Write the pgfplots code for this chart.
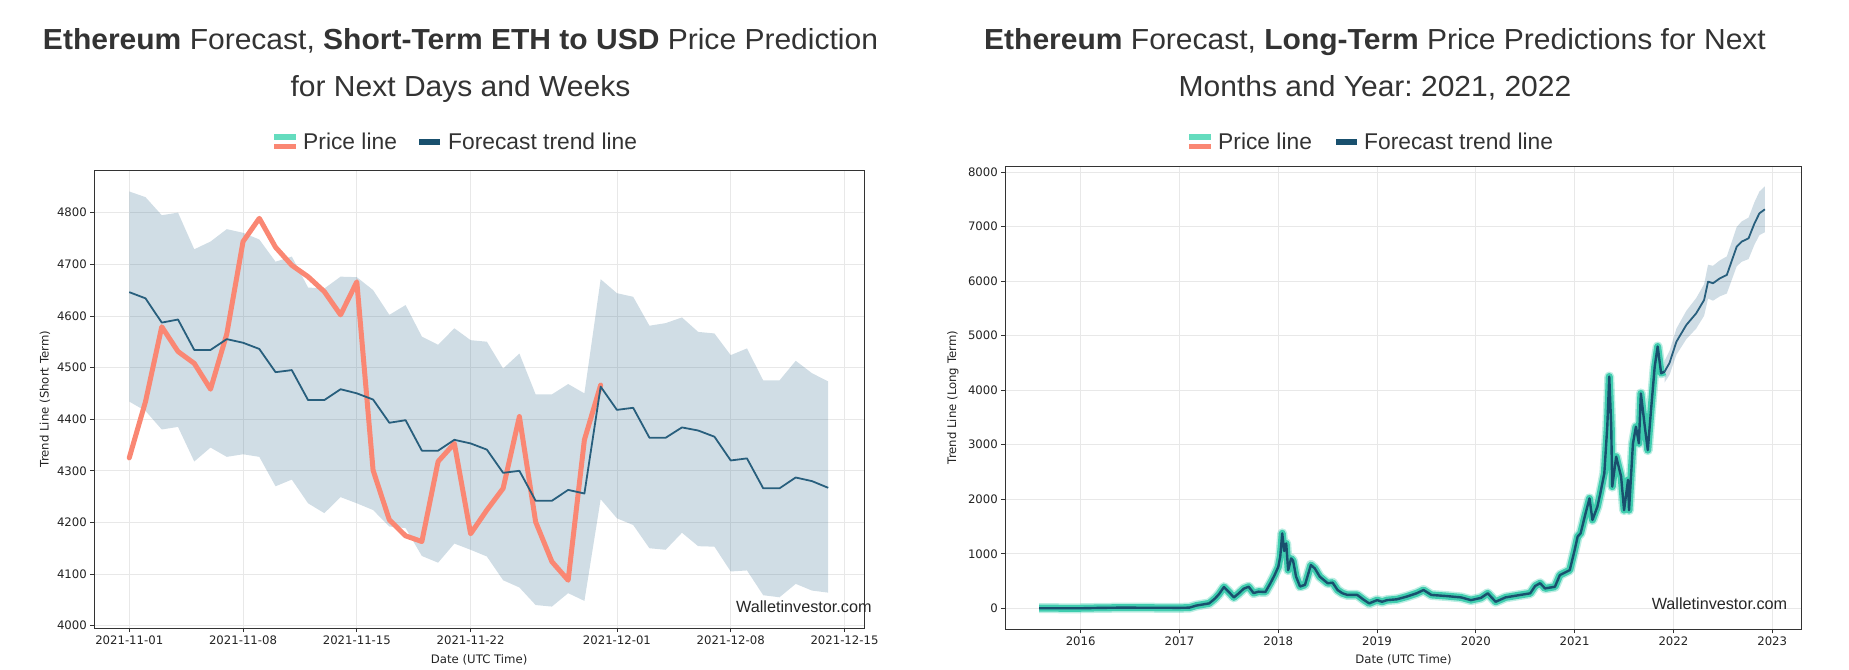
\documentclass[border=0pt]{standalone}
\usepackage{pgfplots}
\pgfplotsset{compat=1.18}
\usepackage{pgfplotstable}
\usepgfplotslibrary{fillbetween}
\usepackage{fontspec}
\setmainfont{Liberation Sans}
\newfontfamily\titlefont[FakeStretch=1.035]{Liberation Sans}
\newfontfamily\dejavu{DejaVu Sans}
\definecolor{titlecol}{RGB}{51,51,51}
\definecolor{bandcol}{RGB}{67,119,151}
\definecolor{trendcol}{RGB}{40,95,125}
\definecolor{salmon}{RGB}{250,135,115}
\definecolor{tealglow}{RGB}{64,205,175}
\definecolor{legteal}{RGB}{100,220,190}
\definecolor{darkline}{RGB}{25,80,110}
\definecolor{gridcol}{RGB}{232,232,232}
\definecolor{tickcol}{RGB}{34,34,34}

\pgfplotstableread{
d t lo hi
0 4646 4434 4841
1 4634 4416 4830
2 4587 4380 4795
3 4593 4385 4800
4 4534 4318 4729
5 4534 4345 4744
6 4555 4327 4768
7 4548 4332 4761
8 4536 4327 4748
9 4491 4270 4705
10 4495 4283 4715
11 4437 4237 4655
12 4437 4218 4653
13 4458 4249 4676
14 4450 4237 4675
15 4438 4224 4650
16 4393 4192 4602
17 4398 4189 4621
18 4339 4135 4560
19 4339 4122 4544
20 4360 4159 4576
21 4353 4147 4553
22 4341 4134 4550
23 4296 4088 4498
24 4300 4074 4527
25 4242 4040 4448
26 4242 4037 4448
27 4263 4063 4468
28 4256 4048 4450
29 4463 4245 4671
30 4418 4208 4644
31 4422 4195 4637
32 4364 4150 4581
33 4364 4147 4586
34 4384 4180 4597
35 4378 4154 4569
36 4366 4153 4566
37 4320 4105 4524
38 4324 4107 4537
39 4266 4059 4475
40 4266 4055 4475
41 4287 4081 4513
42 4280 4068 4489
43 4267 4064 4473
}\sdata

\pgfplotstableread{
d p
0 4325
1 4434
2 4579
3 4531
4 4508
5 4458
6 4565
7 4744
8 4789
9 4733
10 4698
11 4676
12 4647
13 4602
14 4666
15 4301
16 4205
17 4174
18 4163
19 4318
20 4353
21 4178
22 4224
23 4266
24 4405
25 4201
26 4124
27 4088
28 4360
29 4466
}\sprice

\pgfplotstableread{
x y
2015.58 2
2015.80 1
2016.00 1
2016.20 8
2016.40 12
2016.60 11
2016.80 10
2017.00 9
2017.10 12
2017.17 50
2017.25 75
2017.30 90
2017.36 180
2017.40 260
2017.45 390
2017.50 300
2017.55 200
2017.60 275
2017.65 360
2017.70 395
2017.75 280
2017.80 305
2017.87 300
2017.92 460
2017.96 600
2018.00 760
2018.02 950
2018.04 1375
2018.06 1050
2018.08 1190
2018.10 700
2018.13 915
2018.15 870
2018.18 580
2018.22 400
2018.27 430
2018.33 795
2018.37 730
2018.42 580
2018.50 460
2018.55 470
2018.60 335
2018.65 275
2018.70 245
2018.80 245
2018.87 150
2018.92 90
2019.00 150
2019.05 120
2019.10 150
2019.20 165
2019.30 215
2019.40 275
2019.47 335
2019.55 245
2019.70 225
2019.85 200
2019.95 150
2020.05 190
2020.12 275
2020.20 120
2020.30 200
2020.45 245
2020.55 275
2020.60 410
2020.65 460
2020.70 365
2020.80 395
2020.85 610
2020.95 700
2021.00 1070
2021.03 1315
2021.06 1375
2021.11 1740
2021.15 2015
2021.18 1620
2021.23 1865
2021.26 2110
2021.30 2475
2021.33 3330
2021.35 4250
2021.37 3330
2021.38 2230
2021.42 2780
2021.47 2415
2021.50 1800
2021.54 2355
2021.55 1800
2021.59 3025
2021.62 3330
2021.65 3025
2021.67 3940
2021.71 3330
2021.74 2900
2021.77 3575
2021.81 4430
2021.84 4800
2021.875 4310
2021.91 4340
}\lprice

\pgfplotstableread{
x y lo hi
2021.91 4340 4140 4540
2021.96 4500 4280 4720
2022.03 4890 4650 5130
2022.13 5195 4935 5455
2022.23 5409 5129 5689
2022.31 5653 5363 5943
2022.35 5990 5680 6300
2022.40 5960 5640 6280
2022.47 6051 5721 6381
2022.54 6112 5772 6452
2022.64 6631 6271 6991
2022.69 6723 6353 7093
2022.76 6784 6404 7164
2022.82 7059 6669 7449
2022.87 7242 6842 7642
2022.925 7316 6896 7736
}\lfc

\pgfplotsset{mystyle/.style={
  scale only axis,
  axis line style={draw=black!80, line width=0.9bp},
  grid=major,
  major grid style={gridcol, line width=0.8bp},
  tick align=outside,
  xtick pos=left, ytick pos=left,
  major tick length=4bp,
  tick style={black!80, line width=0.8bp},
  tick label style={font=\dejavu\fontsize{11.7bp}{14bp}\selectfont, text=tickcol},
  label style={font=\dejavu\fontsize{11.7bp}{14bp}\selectfont, text=tickcol},
  /pgf/number format/assume math mode=true,
  /pgf/number format/1000 sep={},
}}

\begin{document}
\frenchspacing
\begin{tikzpicture}
\path (0,0) rectangle (1849bp,-670bp);

% ---------- Left chart ----------
\begin{axis}[mystyle,
  at={(94.3bp,-170.3bp)}, anchor=north west,
  width=769.7bp, height=457.7bp,
  xmin=-2.15, xmax=45.2, ymin=3995.5, ymax=4882,
  xtick={0,7,14,21,30,37,44},
  xticklabels={2021-11-01,2021-11-08,2021-11-15,2021-11-22,2021-12-01,2021-12-08,2021-12-15},
  ytick={4000,4100,...,4800},
  xlabel={Date (UTC Time)}, ylabel={Trend Line (Short Term)},
  xlabel style={at={(axis description cs:0.5,-0.0699)}, anchor=center},
  ylabel style={at={(axis description cs:-0.064,0.5)}, anchor=center},
]
\addplot[name path=shi, draw=none, forget plot] table[x=d,y=hi]{\sdata};
\addplot[name path=slo, draw=none, forget plot] table[x=d,y=lo]{\sdata};
\addplot[bandcol, fill opacity=0.25, draw=none] fill between[of=shi and slo];
\addplot[salmon, line width=5bp, line join=round, line cap=round] table[x=d,y=p]{\sprice};
\addplot[trendcol, line width=1.8bp, line join=round] table[x=d,y=t]{\sdata};
\end{axis}

% ---------- Right chart ----------
\begin{axis}[mystyle,
  at={(1005.3bp,-166bp)}, anchor=north west,
  width=796.4bp, height=463.3bp,
  xmin=2015.237, xmax=2023.298, ymin=-385, ymax=8110,
  xtick={2016,2017,...,2023},
  ytick={0,1000,...,8000},
  xlabel={Date (UTC Time)}, ylabel={Trend Line (Long Term)},
  xlabel style={at={(axis description cs:0.5,-0.0663)}, anchor=center},
  ylabel style={at={(axis description cs:-0.0657,0.5)}, anchor=center},
]
\addplot[name path=lhi, draw=none, forget plot] table[x=x,y=hi]{\lfc};
\addplot[name path=llo, draw=none, forget plot] table[x=x,y=lo]{\lfc};
\addplot[bandcol, fill opacity=0.25, draw=none] fill between[of=lhi and llo];
\addplot[tealglow, line width=10bp, opacity=0.35, line join=round] table[x=x,y=y]{\lprice};
\addplot[tealglow, line width=7bp, line join=round] table[x=x,y=y]{\lprice};
\addplot[darkline, line width=2.4bp, line join=round] table[x=x,y=y]{\lprice};
\addplot[trendcol, line width=1.8bp, line join=round] table[x=x,y=y]{\lfc};
\end{axis}

% ---------- Titles ----------
\begin{scope}[every node/.style={anchor=base, inner sep=0, text=titlecol, font=\titlefont\fontsize{29bp}{35bp}\selectfont}]
\node at (460.5bp,-49.5bp) {\textbf{Ethereum} Forecast, \textbf{Short-Term ETH to USD} Price Prediction};
\node at (460.5bp,-96.5bp) {for Next Days and Weeks};
\node at (1375bp,-49.5bp) {\textbf{Ethereum} Forecast, \textbf{Long-Term} Price Predictions for Next};
\node at (1375bp,-96.5bp) {Months and Year: 2021, 2022};
\end{scope}

% ---------- Legends ----------
\begin{scope}[every node/.style={anchor=base west, inner sep=0, text=titlecol, font=\fontsize{22.8bp}{26bp}\selectfont}]
\fill[legteal] (273.6bp,-134bp) rectangle (295.5bp,-139.5bp);
\fill[salmon] (273.6bp,-143.5bp) rectangle (295.5bp,-149bp);
\node at (303bp,-149.7bp) {Price line};
\fill[darkline] (418.6bp,-138.5bp) rectangle (440bp,-144.5bp);
\node at (448bp,-149.7bp) {Forecast trend line};
\fill[legteal] (1188.6bp,-134bp) rectangle (1210.5bp,-139.5bp);
\fill[salmon] (1188.6bp,-143.5bp) rectangle (1210.5bp,-149bp);
\node at (1218bp,-149.7bp) {Price line};
\fill[darkline] (1336bp,-138.5bp) rectangle (1357bp,-144.5bp);
\node at (1364bp,-149.7bp) {Forecast trend line};
\end{scope}

% ---------- Watermarks ----------
\begin{scope}[every node/.style={anchor=base east, inner sep=0, text=black!85, font=\fontsize{16.2bp}{18bp}\selectfont}]
\node at (871.7bp,-612.3bp) {Walletinvestor.com};
\node at (1787.3bp,-609bp) {Walletinvestor.com};
\end{scope}
\end{tikzpicture}
\end{document}
